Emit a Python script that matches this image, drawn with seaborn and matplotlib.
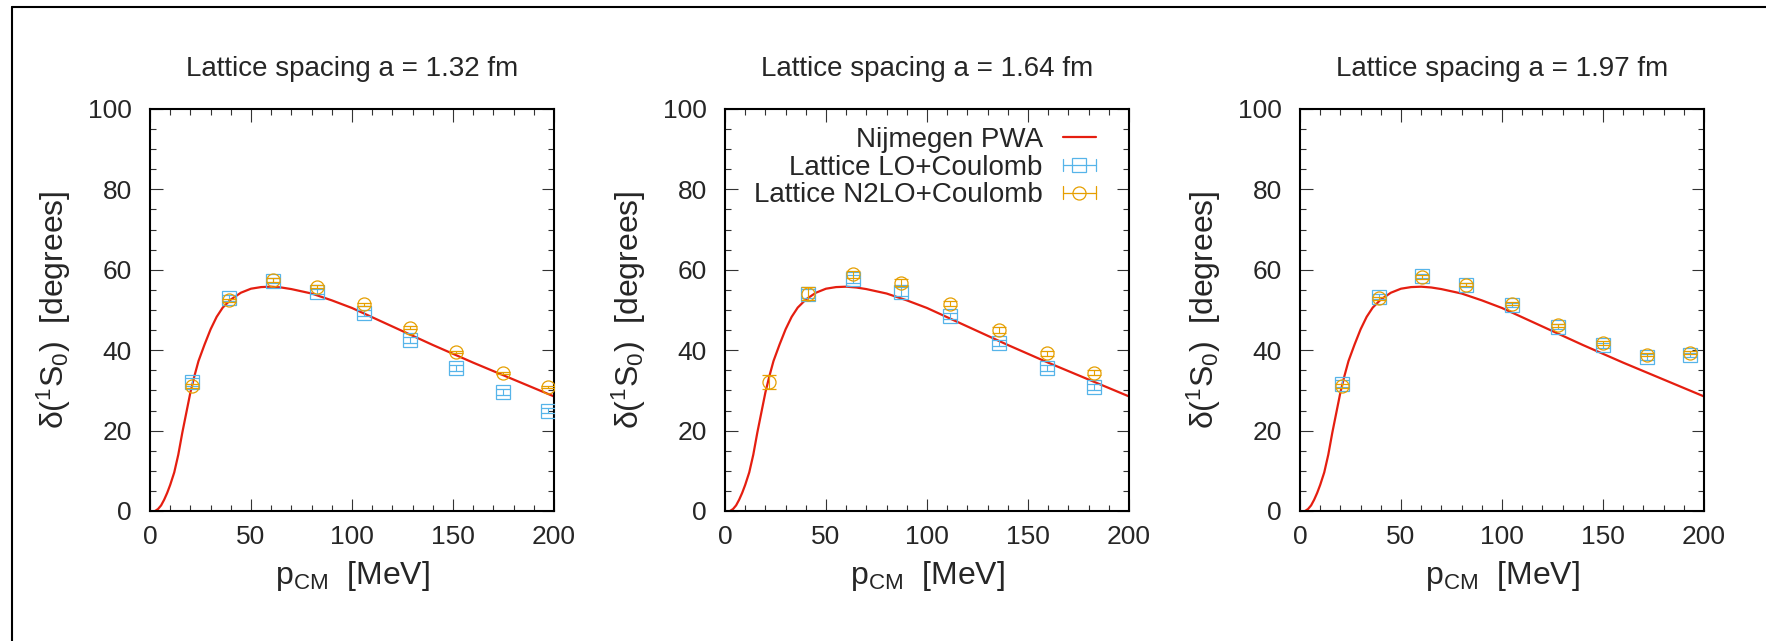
import numpy as np
import matplotlib
matplotlib.use("Agg")
import matplotlib.pyplot as plt
import seaborn as sns
from matplotlib.lines import Line2D
from matplotlib.legend_handler import HandlerBase

# -------------------- Data --------------------
# Nijmegen PWA curve, pp 1S0 phase shift (degrees) vs p_CM (MeV)
pwa_p = [2.5, 4, 5.5, 7, 8.5, 10, 12, 14, 16, 18, 20, 22, 24, 27, 30, 33, 36, 40,
         45, 50, 55, 60, 65, 70, 80, 90, 100, 110, 120, 130, 140, 150, 160, 170,
         180, 190, 200]
pwa_delta = [0.0, 0.5, 1.4, 2.8, 4.5, 6.5, 9.6, 14.0, 19.5, 24.5, 29.5, 33.6, 37.3,
             41.4, 45.2, 48.3, 50.6, 52.6, 54.3, 55.3, 55.7, 55.8, 55.6, 55.2, 54.1,
             52.4, 50.5, 48.2, 45.9, 43.6, 41.3, 39.1, 36.9, 34.8, 32.7, 30.6, 28.5]

spacings = ["1.32", "1.64", "1.97"]

# a = 1.32 fm
p_lo_132 = [20.6, 39.2, 60.7, 82.9, 105.9, 128.9, 151.7, 174.6, 197.2]
d_lo_132 = [32.0, 53.0, 57.3, 54.5, 49.3, 42.6, 35.6, 29.6, 24.9]
e_lo_132 = [1.0, 0.8, 0.6, 0.6, 0.7, 0.7, 0.8, 0.7, 0.6]
p_n2_132 = [20.6, 39.2, 60.7, 82.9, 105.9, 128.9, 151.7, 174.6, 197.2]
d_n2_132 = [31.0, 52.4, 57.4, 55.8, 51.4, 45.6, 39.6, 34.4, 30.9]
e_n2_132 = [0.5, 0.4, 0.5, 0.4, 0.3, 0.3, 0.2, 0.2, 0.2]

# a = 1.64 fm
p_lo_164 = [41.2, 63.6, 87.2, 111.3, 135.4, 159.3, 182.9]
d_lo_164 = [54.1, 57.7, 54.6, 48.5, 41.8, 35.6, 30.9]
e_lo_164 = [1.2, 1.0, 1.0, 0.8, 0.8, 0.8, 0.7]
p_n2_164 = [21.8, 41.2, 63.6, 87.2, 111.3, 135.4, 159.3, 182.9]
d_n2_164 = [32.1, 54.1, 58.9, 56.8, 51.6, 45.1, 39.2, 34.4]
e_n2_164 = [1.7, 1.7, 0.9, 0.9, 0.7, 0.7, 0.6, 0.6]

# a = 1.97 fm
p_lo_197 = [20.6, 38.9, 60.3, 82.4, 105.0, 127.6, 150.0, 172.0, 193.2]
d_lo_197 = [31.7, 53.3, 58.4, 56.3, 51.2, 45.8, 41.2, 38.3, 38.8]
e_lo_197 = [0.8, 0.6, 0.5, 0.5, 0.5, 0.6, 0.6, 0.7, 0.6]
p_n2_197 = [20.6, 38.9, 60.3, 82.4, 105.0, 127.6, 150.0, 172.0, 193.2]
d_n2_197 = [31.0, 52.9, 58.2, 56.3, 51.6, 46.2, 41.8, 38.9, 39.4]
e_n2_197 = [0.5, 0.4, 0.4, 0.4, 0.4, 0.4, 0.4, 0.4, 0.4]

panels = [
    (p_lo_132, d_lo_132, e_lo_132, p_n2_132, d_n2_132, e_n2_132),
    (p_lo_164, d_lo_164, e_lo_164, p_n2_164, d_n2_164, e_n2_164),
    (p_lo_197, d_lo_197, e_lo_197, p_n2_197, d_n2_197, e_n2_197),
]

RED = "#e51e10"
BLUE = "#56b4e9"
ORANGE = "#e69f00"
MS = 9.4


# -------------------- gnuplot style legend sample --------------------
class GnuErrHandler(HandlerBase):
    def create_artists(self, legend, orig_handle, xdescent, ydescent,
                       width, height, fontsize, trans):
        col = orig_handle.get_color()
        yc = (height - ydescent) / 2.0
        x0, x1 = -xdescent, width - xdescent
        cap = 0.32 * height
        arts = [
            Line2D([x0, x1], [yc, yc], color=col, lw=0.9),
            Line2D([x0, x0], [yc - cap, yc + cap], color=col, lw=0.9),
            Line2D([x1, x1], [yc - cap, yc + cap], color=col, lw=0.9),
            Line2D([(x0 + x1) / 2], [yc], marker=orig_handle.get_marker(), ms=MS,
                   mfc="none", mec=col, mew=0.9, ls="none"),
        ]
        for a in arts:
            a.set_transform(trans)
        return arts


# -------------------- Plot --------------------
sns.set_theme(style="ticks")
plt.rcParams["font.family"] = ["Liberation Sans", "DejaVu Sans"]
plt.rcParams["mathtext.fontset"] = "custom"
plt.rcParams["mathtext.rm"] = "Liberation Sans"
plt.rcParams["mathtext.default"] = "regular"

fig = plt.figure(figsize=(17.66, 6.41), dpi=100)
lefts = [150, 725, 1300]
axes = [fig.add_axes([l / 1766, 130 / 641, 404 / 1766, 402 / 641]) for l in lefts]

for ax, a, (plo, dlo, elo, pn2, dn2, en2) in zip(axes, spacings, panels):
    sns.lineplot(x=pwa_p, y=pwa_delta, ax=ax, color=RED, linewidth=1.6,
                 estimator=None, legend=False, zorder=2)
    ax.errorbar(plo, dlo, yerr=elo, fmt="s", ms=MS, mfc="none", mec=BLUE, mew=0.9,
                ecolor=BLUE, elinewidth=0.8, capsize=MS / 2, capthick=0.8, zorder=3)
    ax.errorbar(pn2, dn2, yerr=en2, fmt="o", ms=MS, mfc="none", mec=ORANGE, mew=0.9,
                ecolor=ORANGE, elinewidth=0.8, capsize=MS / 2, capthick=0.8, zorder=4)

    ax.set_xlim(0, 200)
    ax.set_ylim(0, 100)
    ax.set_xticks(np.arange(0, 201, 50))
    ax.set_xticks(np.arange(0, 201, 10), minor=True)
    ax.set_yticks(np.arange(0, 101, 20))
    ax.set_yticks(np.arange(0, 101, 5), minor=True)
    ax.tick_params(which="both", direction="in", top=True, right=True,
                   color="#333333", width=0.8, labelsize=19)
    ax.tick_params(which="major", length=9)
    ax.tick_params(which="minor", length=4.5)
    ax.tick_params(axis="x", pad=10)
    ax.tick_params(axis="y", pad=13)
    for sp in ax.spines.values():
        sp.set_linewidth(1.5)
        sp.set_color("black")

    ax.set_title(f"Lattice spacing a = {a} fm", fontsize=20, pad=23.8)
    ax.set_xlabel(r"$p_{CM}$  [MeV]", fontsize=23, labelpad=7)
    ax.set_ylabel(r"$\delta(^1S_0)$  [degrees]", fontsize=23, labelpad=11)

# legend in the middle panel
h_pwa = Line2D([], [], color=RED, lw=1.6)
h_lo = Line2D([], [], color=BLUE, marker="s")
h_n2 = Line2D([], [], color=ORANGE, marker="o")
axes[1].legend([h_pwa, h_lo, h_n2],
               ["Nijmegen PWA", "Lattice LO+Coulomb", "Lattice N2LO+Coulomb"],
               handler_map={h_lo: GnuErrHandler(), h_n2: GnuErrHandler()},
               loc="upper right", bbox_to_anchor=(0.918, 0.955), frameon=False,
               markerfirst=False, fontsize=20, handlelength=1.19, handletextpad=0.72,
               labelspacing=0.06, borderpad=0, borderaxespad=0)

# outer frame (left and top edges)
fig.add_artist(Line2D([12 / 1766, 12 / 1766], [0, 1 - 7 / 641], color="black",
                      lw=1.5, transform=fig.transFigure))
fig.add_artist(Line2D([12 / 1766, 1], [1 - 7 / 641, 1 - 7 / 641], color="black",
                      lw=1.5, transform=fig.transFigure))

fig.savefig("out.png", dpi=100)
plt.close(fig)
